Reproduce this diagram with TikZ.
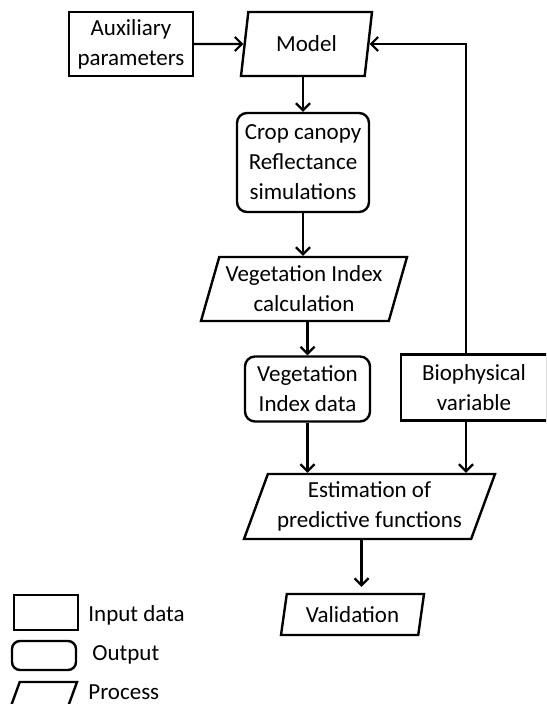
\documentclass[tikz,border=0pt]{standalone}
\usepackage{fontspec}
\setmainfont{Carlito}
\usepackage{tikz}
\usetikzlibrary{calc, positioning, shapes.geometric, arrows.meta}
\tikzstyle{base}=[draw, line width=1.2pt, align=center, inner sep=1pt, font=\fontsize{11.5}{15}\selectfont]
\tikzstyle{input}=[base, rectangle]
\tikzstyle{output}=[base, rectangle, rounded corners=5pt]
\tikzstyle{process}=[base, trapezium, trapezium left angle=70, trapezium right angle=110, trapezium stretches body]
\tikzstyle{legtext}=[anchor=west, inner sep=0pt, font=\fontsize{11.5}{15}\selectfont]
\tikzstyle{every edge}=[draw, line width=1.1pt, -{Straight Barb[length=3.5pt,width=7pt]}]

\begin{document}
\begin{tikzpicture}[x=0.5pt, y=-0.5pt]
		\useasboundingbox (0,0) rectangle (546,704);
		\clip (0,0) rectangle (546,704);

		\node[input, minimum width=62pt, minimum height=32pt] (aux) at (131, 44) {Auxiliary\\parameters};
		\node[process, minimum width=65.5pt, minimum height=32pt] (model) at (306.5, 44) {Model};
		\node[output, minimum width=66pt, minimum height=49.5pt] (crop) at (303, 162.5) {Crop canopy\\Reflectance\\simulations};
		\node[process, minimum width=103pt, minimum height=32pt] (vicalc) at (304, 289) {Vegetation Index\\calculation};
		\node[output, minimum width=62.5pt, minimum height=32.5pt] (vidata) at (307.5, 389) {Vegetation\\Index data};
		\node[input, minimum width=73pt, minimum height=33pt] (bio) at (474, 387.5) {Biophysical\\variable};
		\node[process, trapezium left angle=66, trapezium right angle=114, minimum width=125.5pt, minimum height=32.5pt] (estim) at (369.5, 506.5) {Estimation of\\predictive functions};
		\node[process, trapezium left angle=74, trapezium right angle=106, minimum width=71.5pt, minimum height=20.5pt] (valid) at (352.5, 614.5) {Validation};

		\path (aux) edge (model);
		\path (crop.north |- model.south) edge (crop.north);
		\path (crop.south) edge (crop.south |- vicalc.north);
		\path (vicalc.south -| vidata.north) edge (vidata.north);
		\path (vidata.south) edge (vidata.south |- estim.north);
		\path ([xshift=-4pt]bio.south) edge ([xshift=-4pt]bio.south |- estim.north);
		\path ([xshift=-4pt]bio.north) edge[to path={|- (\tikztotarget)}] (model.east);
		\path ([xshift=-4pt]estim.south) edge[shorten >=3pt] ([xshift=-4pt]estim.south |- valid.north);

		% legend
		\node[input, minimum width=32pt, minimum height=17.5pt] (leginput) at (46, 612.5) {};
		\node[output, rounded corners=4pt, minimum width=32pt, minimum height=14.5pt] (legoutput) at (44, 655.5) {};
		\node[process, minimum width=35pt, minimum height=17.5pt] (legprocess) at (42, 699.5) {\rule{0pt}{15.5pt}};
		\node[legtext] (leginputtext) at (88, 615) {Input data};
		\node[legtext] (legoutputtext) at (92, 655) {Output};
		\node[legtext] (legprocesstext) at (88, 692) {Process};
	\end{tikzpicture}
\end{document}
